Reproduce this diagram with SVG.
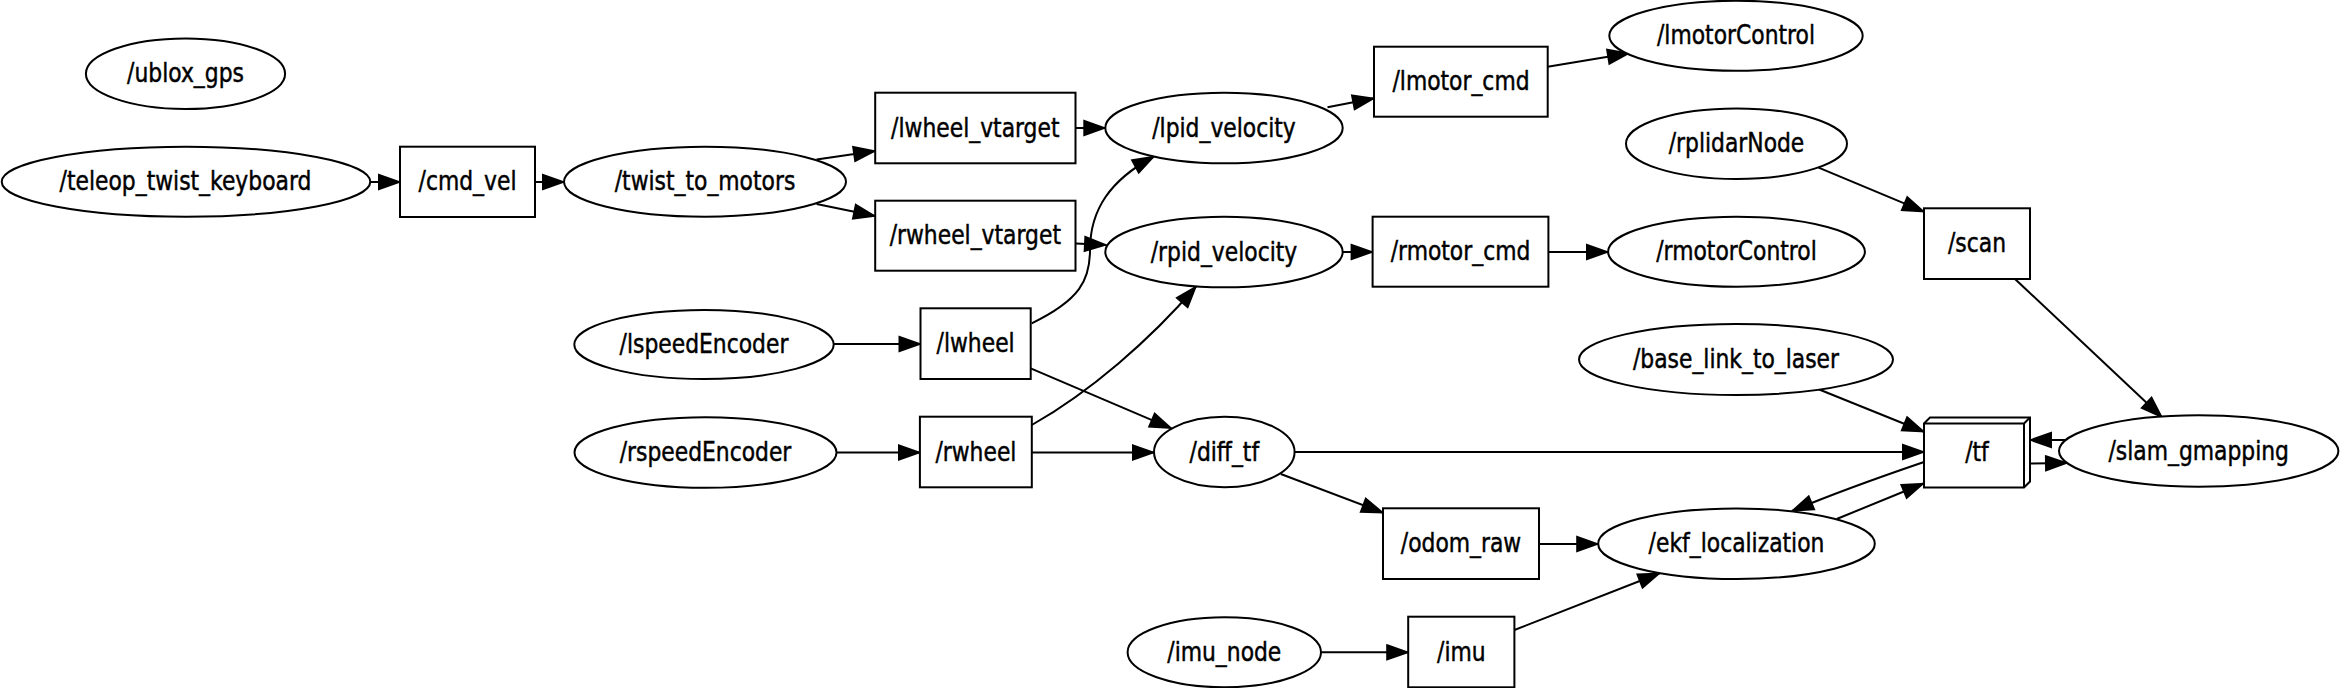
<svg xmlns="http://www.w3.org/2000/svg" width="2340" height="688" viewBox="0 0 2340 688">
<style>
.n{fill:#fff;stroke:#000;stroke-width:2}
.e{fill:none;stroke:#000;stroke-width:2}
.t{font-family:"DejaVu Sans","Liberation Sans",sans-serif;font-size:27px;text-anchor:middle;fill:#000;stroke:#000;stroke-width:0.5;stroke-linejoin:round}
</style>
<defs>
<marker id="ah" markerUnits="userSpaceOnUse" markerWidth="26" markerHeight="20" viewBox="-3 -3 26 20" refX="21" refY="7" orient="auto">
<path d="M0,0 L20,7 L0,14 Z" fill="#000" stroke="#000" stroke-width="2" stroke-linejoin="miter"/>
</marker>
</defs>
<rect width="2340" height="688" fill="#fff"/>
<g id="edges" class="e" marker-end="url(#ah)">
<path d="M370.3,182 L400,182"/>
<path d="M535,182 L564,182"/>
<path d="M816.6,159.5 L875,151"/>
<path d="M816.6,204 L875,216"/>
<path d="M1075.5,128 L1105.3,128"/>
<path d="M1076,243.5 L1106,245"/>
<path d="M1327.5,107.3 L1374,98.3"/>
<path d="M1547.7,66.7 L1629,53.3"/>
<path d="M1342.8,252 L1372.6,252"/>
<path d="M1548.4,252 L1608,252"/>
<path d="M1818.6,167.7 L1924,211.7"/>
<path d="M2015,279 L2162,417.3"/>
<path d="M1818.6,389.3 L1924,431.7"/>
<path d="M1294.7,452 L1924,452"/>
<path d="M2066,440 L2030,440"/>
<path d="M2030,463.5 L2067,463"/>
<path d="M1924,462 C1880,477 1835,493 1792,511"/>
<path d="M1836.7,519 L1923.5,483.5"/>
<path d="M1280.8,474 L1383,512.7"/>
<path d="M1539,544 L1598.2,544"/>
<path d="M1321,652.3 L1408.2,652.3"/>
<path d="M1514.4,630 L1659.6,573.3"/>
<path d="M833.8,344 L920.5,344"/>
<path d="M836.7,452.5 L920,452.5"/>
<path d="M1031.8,452.5 L1154,452.5"/>
<path d="M1030.7,368.3 L1171.3,428.3"/>
<path d="M1031.7,323.3 C1080,300 1090,280 1090,250 C1090,210 1110,180 1154,156.5"/>
<path d="M1031.8,425 C1090,392 1150,340 1196,286.5"/>
</g>
<g id="ublox_gps"><ellipse class="n" cx="185.5" cy="73.7" rx="99.6" ry="35.3"/><text class="t" transform="translate(185.5,82.2) scale(0.81,1)">/ublox_gps</text></g>
<g id="teleop_twist_keyboard"><ellipse class="n" cx="186" cy="181.7" rx="184.3" ry="35"/><text class="t" transform="translate(185.5,190.2) scale(0.81,1)">/teleop_twist_keyboard</text></g>
<g id="cmd_vel"><rect class="n" x="400" y="146.7" width="135" height="70.3"/><text class="t" transform="translate(467.5,190.2) scale(0.81,1)">/cmd_vel</text></g>
<g id="twist_to_motors"><ellipse class="n" cx="705" cy="181.7" rx="141" ry="35"/><text class="t" transform="translate(705,190.2) scale(0.81,1)">/twist_to_motors</text></g>
<g id="lwheel_vtarget"><rect class="n" x="875.2" y="92.7" width="200.3" height="70.6"/><text class="t" transform="translate(975.3,136.5) scale(0.81,1)">/lwheel_vtarget</text></g>
<g id="rwheel_vtarget"><rect class="n" x="875.2" y="200.7" width="200.3" height="70"/><text class="t" transform="translate(975.3,244.2) scale(0.81,1)">/rwheel_vtarget</text></g>
<g id="lpid_velocity"><ellipse class="n" cx="1224" cy="128" rx="118.7" ry="35.3"/><text class="t" transform="translate(1224,136.5) scale(0.81,1)">/lpid_velocity</text></g>
<g id="rpid_velocity"><ellipse class="n" cx="1224" cy="252" rx="118.7" ry="35.3"/><text class="t" transform="translate(1224,260.5) scale(0.81,1)">/rpid_velocity</text></g>
<g id="lmotor_cmd"><rect class="n" x="1374" y="46.7" width="173.7" height="70"/><text class="t" transform="translate(1461,90.2) scale(0.81,1)">/lmotor_cmd</text></g>
<g id="rmotor_cmd"><rect class="n" x="1372.6" y="216.7" width="175.8" height="70"/><text class="t" transform="translate(1460.5,260.2) scale(0.81,1)">/rmotor_cmd</text></g>
<g id="lmotorControl"><ellipse class="n" cx="1736" cy="35.7" rx="126.7" ry="35"/><text class="t" transform="translate(1736,44.2) scale(0.81,1)">/lmotorControl</text></g>
<g id="rmotorControl"><ellipse class="n" cx="1736.5" cy="251.7" rx="128.4" ry="35"/><text class="t" transform="translate(1736.5,260.2) scale(0.81,1)">/rmotorControl</text></g>
<g id="rplidarNode"><ellipse class="n" cx="1736.5" cy="143.7" rx="110.5" ry="35.3"/><text class="t" transform="translate(1736.5,152.2) scale(0.81,1)">/rplidarNode</text></g>
<g id="scan"><rect class="n" x="1924" y="208.3" width="106" height="70.7"/><text class="t" transform="translate(1977,252.2) scale(0.81,1)">/scan</text></g>
<g id="base_link_to_laser"><ellipse class="n" cx="1736" cy="359.5" rx="157" ry="35.5"/><text class="t" transform="translate(1736,368) scale(0.81,1)">/base_link_to_laser</text></g>
<g id="tf"><path class="n" d="M1924,423.5 L1930,417.5 L2030,417.5 L2030,481.5 L2024,487.5 L1924,487.5 Z"/><path class="e" d="M1924,423.5 L2024,423.5 L2024,487.5 M2024,423.5 L2030,417.5"/><text class="t" transform="translate(1977,461) scale(0.81,1)">/tf</text></g>
<g id="slam_gmapping"><ellipse class="n" cx="2198.7" cy="451" rx="139.7" ry="35.7"/><text class="t" transform="translate(2198.7,459.5) scale(0.81,1)">/slam_gmapping</text></g>
<g id="lspeedEncoder"><ellipse class="n" cx="704" cy="344.5" rx="129.7" ry="34.5"/><text class="t" transform="translate(704,353) scale(0.81,1)">/lspeedEncoder</text></g>
<g id="rspeedEncoder"><ellipse class="n" cx="705.5" cy="452.5" rx="131" ry="35.3"/><text class="t" transform="translate(705.5,461) scale(0.81,1)">/rspeedEncoder</text></g>
<g id="lwheel"><rect class="n" x="920.5" y="308.3" width="110.2" height="70.7"/><text class="t" transform="translate(975.6,352.2) scale(0.81,1)">/lwheel</text></g>
<g id="rwheel"><rect class="n" x="919.9" y="416.7" width="111.9" height="70.6"/><text class="t" transform="translate(975.9,460.5) scale(0.81,1)">/rwheel</text></g>
<g id="diff_tf"><ellipse class="n" cx="1224.3" cy="452" rx="70.3" ry="35.3"/><text class="t" transform="translate(1224.3,460.5) scale(0.81,1)">/diff_tf</text></g>
<g id="odom_raw"><rect class="n" x="1383" y="508.3" width="156" height="70.7"/><text class="t" transform="translate(1461,552.2) scale(0.81,1)">/odom_raw</text></g>
<g id="ekf_localization"><ellipse class="n" cx="1736.5" cy="543.7" rx="138.3" ry="35.3"/><text class="t" transform="translate(1736.5,552.2) scale(0.81,1)">/ekf_localization</text></g>
<g id="imu_node"><ellipse class="n" cx="1224.3" cy="652.3" rx="96.7" ry="35"/><text class="t" transform="translate(1224.3,660.8) scale(0.81,1)">/imu_node</text></g>
<g id="imu"><rect class="n" x="1408.2" y="616.7" width="106.2" height="70.6"/><text class="t" transform="translate(1461.3,660.5) scale(0.81,1)">/imu</text></g>
</svg>
